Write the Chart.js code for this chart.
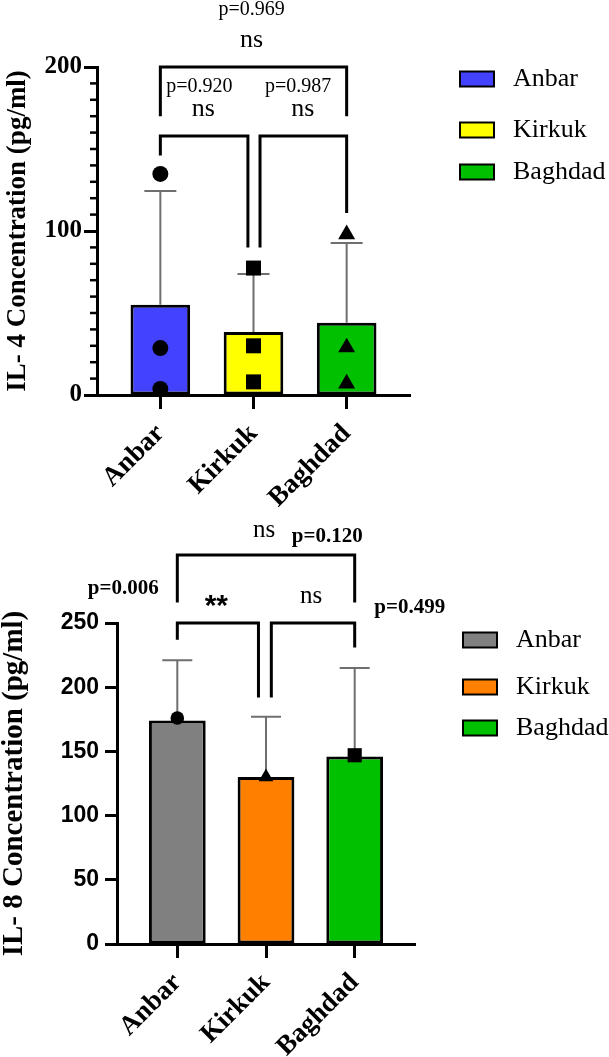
<!DOCTYPE html>
<html lang="en">
<head>
    <meta charset="UTF-8">
    <title>IL-4 and IL-8 Concentration</title>
    <script src="https://cdn.jsdelivr.net/npm/chart.js"></script>
    <style>
        body {
            margin: 0;
            background: #ffffff;
        }
        .panel {
            position: relative;
            width: 609px;
        }
        #topPanel { height: 512px; }
        #bottomPanel { height: 545px; }
    </style>
</head>
<body>
    <div class="panel" id="topPanel"><canvas id="il4Chart"></canvas></div>
    <div class="panel" id="bottomPanel"><canvas id="il8Chart"></canvas></div>

    <script>
        const groups = ['Anbar', 'Kirkuk', 'Baghdad'];

        // IL-4 (pg/ml)
        const il4Mean = [55, 38.4, 44];
        const il4Sd = [69.4, 35.4, 48.7];
        const il4Anbar = [134.8, 28.6, 3.7];
        const il4Kirkuk = [77.4, 30, 8];
        const il4Baghdad = [98, 29, 7];
        const il4Colors = ['#4343ff', '#ffff00', '#00c000'];
        const il4Ticks = [0, 100, 200];

        // IL-8 (pg/ml)
        const il8Mean = [174, 130, 146];
        const il8Sd = [47, 47, 69];
        const il8Anbar = [176];
        const il8Kirkuk = [130];
        const il8Baghdad = [147];
        const il8Colors = ['#808080', '#ff8000', '#00c000'];
        const il8Ticks = [0, 50, 100, 150, 200, 250];

        // comparison brackets (x = group index, y = value)
        const il4Brackets = [
            { x1: 0, x2: 2, y: 200, y1: 170, y2: 170 },
            { x1: 0, x2: 0.94, y: 158, y1: 146, y2: 90 },
            { x1: 1.07, x2: 2, y: 158, y1: 90, y2: 111 }
        ];
        const il4Notes = [
            { text: 'p=0.969', x: 0.98, y: 235, font: '20px "Liberation Serif"' },
            { text: 'ns', x: 0.98, y: 216.5, font: '26px "Liberation Serif"' },
            { text: 'p=0.920', x: 0.42, y: 188, font: '20px "Liberation Serif"' },
            { text: 'ns', x: 0.46, y: 174.4, font: '26px "Liberation Serif"' },
            { text: 'p=0.987', x: 1.48, y: 188, font: '20px "Liberation Serif"' },
            { text: 'ns', x: 1.53, y: 174.4, font: '26px "Liberation Serif"' }
        ];

        const il8Brackets = [
            { x1: 0, x2: 2, y: 303, y1: 266, y2: 266 },
            { x1: 0, x2: 0.915, y: 250, y1: 237, y2: 192 },
            { x1: 1.06, x2: 2, y: 250, y1: 192, y2: 231 }
        ];
        const il8Notes = [
            { text: 'ns', x: 0.98, y: 322, font: '25px "Liberation Serif"' },
            { text: 'p=0.120', x: 1.69, y: 317, font: 'bold 21px "Liberation Serif"' },
            { text: 'p=0.006', x: -0.61, y: 277, font: 'bold 21px "Liberation Serif"' },
            { text: '**', x: 0.44, y: 263, font: 'bold 30px "Liberation Sans"' },
            { text: 'ns', x: 1.51, y: 271, font: '25px "Liberation Serif"' },
            { text: 'p=0.499', x: 2.62, y: 262, font: 'bold 21px "Liberation Serif"' }
        ];

        // extra drawing: error bars, minor ticks, brackets, notes, legend
        function makeExtras(cfg) {
            return {
                id: 'extras',
                afterDatasetDraw(chart, args) {
                    if (args.index !== 0) return;
                    const xs = chart.scales.x, ys = chart.scales.y, ctx = chart.ctx;
                    ctx.save();
                    ctx.strokeStyle = '#6f6f6f';
                    ctx.lineWidth = 2;
                    cfg.mean.forEach((m, i) => {
                        const px = xs.getPixelForValue(i);
                        const top = ys.getPixelForValue(m + cfg.sd[i]);
                        ctx.beginPath();
                        ctx.moveTo(px, ys.getPixelForValue(m));
                        ctx.lineTo(px, top);
                        ctx.moveTo(px - cfg.capHalf, top);
                        ctx.lineTo(px + cfg.capHalf, top);
                        ctx.stroke();
                    });
                    ctx.restore();
                },
                afterDraw(chart) {
                    const xs = chart.scales.x, ys = chart.scales.y, ctx = chart.ctx;
                    const area = chart.chartArea;
                    ctx.save();

                    // minor ticks
                    if (cfg.minorStep) {
                        ctx.strokeStyle = '#000';
                        ctx.lineWidth = 2.5;
                        for (let v = cfg.minorStep; v < ys.max; v += cfg.minorStep) {
                            if (v % ys.options.ticks.stepSize === 0) continue;
                            const py = ys.getPixelForValue(v);
                            ctx.beginPath();
                            ctx.moveTo(area.left - 7, py);
                            ctx.lineTo(area.left, py);
                            ctx.stroke();
                        }
                    }

                    // brackets
                    ctx.strokeStyle = '#000';
                    ctx.lineWidth = 3;
                    ctx.lineJoin = 'miter';
                    cfg.brackets.forEach(b => {
                        ctx.beginPath();
                        ctx.moveTo(xs.getPixelForValue(b.x1), ys.getPixelForValue(b.y1));
                        ctx.lineTo(xs.getPixelForValue(b.x1), ys.getPixelForValue(b.y));
                        ctx.lineTo(xs.getPixelForValue(b.x2), ys.getPixelForValue(b.y));
                        ctx.lineTo(xs.getPixelForValue(b.x2), ys.getPixelForValue(b.y2));
                        ctx.stroke();
                    });

                    // notes
                    ctx.fillStyle = '#000';
                    ctx.textAlign = 'center';
                    ctx.textBaseline = 'middle';
                    cfg.notes.forEach(n => {
                        ctx.font = n.font;
                        ctx.fillText(n.text, xs.getPixelForValue(n.x), ys.getPixelForValue(n.y));
                    });

                    // legend
                    ctx.textAlign = 'left';
                    ctx.font = '26px "Liberation Serif"';
                    groups.forEach((g, i) => {
                        const bx = area.right + cfg.legendX;
                        const by = area.top + cfg.legendRows[i];
                        ctx.fillStyle = cfg.colors[i];
                        ctx.fillRect(bx, by - 7.5, 34, 15);
                        ctx.lineWidth = 2;
                        ctx.strokeStyle = '#000';
                        ctx.strokeRect(bx, by - 7.5, 34, 15);
                        ctx.fillStyle = '#000';
                        ctx.fillText(g, bx + 53, by);
                    });
                    ctx.restore();
                }
            };
        }

        function buildChart(canvasId, c) {
            const pointSets = [
                { values: c.points[0], style: 'circle', radius: c.radii[0], x: 0 },
                { values: c.points[1], style: c.styles[1], radius: c.radii[1], x: 1 },
                { values: c.points[2], style: c.styles[2], radius: c.radii[2], x: 2 }
            ];
            const datasets = [{
                type: 'bar',
                data: c.mean.map((v, i) => ({ x: i, y: v })),
                backgroundColor: c.colors,
                borderColor: '#000',
                borderWidth: 3,
                borderSkipped: false,
                barPercentage: 0.64,
                categoryPercentage: 1,
                order: 2
            }];
            pointSets.forEach(p => {
                datasets.push({
                    type: 'scatter',
                    data: p.values.map(v => ({ x: p.x, y: v })),
                    pointStyle: p.style,
                    pointRadius: p.radius,
                    backgroundColor: '#000',
                    borderColor: '#000',
                    borderWidth: 0,
                    order: 1
                });
            });

            return new Chart(document.getElementById(canvasId), {
                type: 'bar',
                data: { datasets: datasets },
                options: {
                    responsive: true,
                    maintainAspectRatio: false,
                    animation: false,
                    layout: { padding: { top: c.padTop, right: c.padRight, left: 0, bottom: 0 } },
                    plugins: { legend: { display: false }, tooltip: { enabled: false } },
                    scales: {
                        x: {
                            type: 'linear',
                            min: -0.68,
                            max: 2.68,
                            offset: false,
                            afterBuildTicks: s => { s.ticks = groups.map((g, i) => ({ value: i })); },
                            afterFit: s => { s.height = c.xHeight; },
                            ticks: {
                                callback: v => groups[v],
                                minRotation: 45,
                                maxRotation: 45,
                                autoSkip: false,
                                padding: 9,
                                color: '#000',
                                font: { family: 'Liberation Serif', size: 27, weight: 'bold' }
                            },
                            grid: { offset: false, drawOnChartArea: false, tickLength: 14, tickWidth: 3, tickColor: '#000' },
                            border: { color: '#000', width: 3 }
                        },
                        y: {
                            min: 0,
                            max: c.yMax,
                            afterFit: s => { s.width = c.yWidth; },
                            afterBuildTicks: s => { s.ticks = c.ticks.map(v => ({ value: v })); },
                            ticks: {
                                stepSize: c.yStep,
                                padding: c.tickPad,
                                color: '#000',
                                font: c.tickFont
                            },
                            grid: { drawOnChartArea: false, tickLength: c.tickLen, tickWidth: 3, tickColor: '#000' },
                            border: { color: '#000', width: 3 },
                            title: {
                                display: true,
                                text: c.title,
                                color: '#000',
                                padding: c.titlePad,
                                font: { family: 'Liberation Serif', size: c.titleSize, weight: 'bold', lineHeight: 1 }
                            }
                        }
                    }
                },
                plugins: [makeExtras({
                    mean: c.mean, sd: c.sd, capHalf: c.capHalf, minorStep: c.minorStep,
                    brackets: c.brackets, notes: c.notes, colors: c.colors,
                    legendX: c.legendX, legendRows: c.legendRows
                })]
            });
        }

        buildChart('il4Chart', {
            mean: il4Mean, sd: il4Sd, colors: il4Colors,
            points: [il4Anbar, il4Kirkuk, il4Baghdad],
            styles: ['circle', 'rect', 'triangle'], radii: [8, 10.6, 9.8],
            yMax: 200, yStep: 100, ticks: il4Ticks, minorStep: 10,
            padTop: 67, padRight: 199, yWidth: 97, xHeight: 117,
            tickLen: 13, tickPad: 2,
            tickFont: { family: 'Liberation Serif', size: 25, weight: 'bold' },
            title: 'IL- 4 Concentration (pg/ml)', titleSize: 27, titlePad: { top: 5, bottom: 0 },
            capHalf: 16, brackets: il4Brackets, notes: il4Notes,
            legendX: 50, legendRows: [12, 63, 105]
        });

        buildChart('il8Chart', {
            mean: il8Mean, sd: il8Sd, colors: il8Colors,
            points: [il8Anbar, il8Kirkuk, il8Baghdad],
            styles: ['circle', 'triangle', 'rect'], radii: [6.8, 8.5, 10],
            yMax: 250, yStep: 50, ticks: il8Ticks, minorStep: 0,
            padTop: 111, padRight: 194, yWidth: 117, xHeight: 113,
            tickLen: 12, tickPad: 6,
            tickFont: { family: 'Liberation Sans', size: 23, weight: 'bold' },
            title: 'IL- 8 Concentration (pg/ml)', titleSize: 29, titlePad: { top: 0, bottom: 0 },
            capHalf: 15, brackets: il8Brackets, notes: il8Notes,
            legendX: 48, legendRows: [17, 64, 105]
        });
    </script>
</body>
</html>
